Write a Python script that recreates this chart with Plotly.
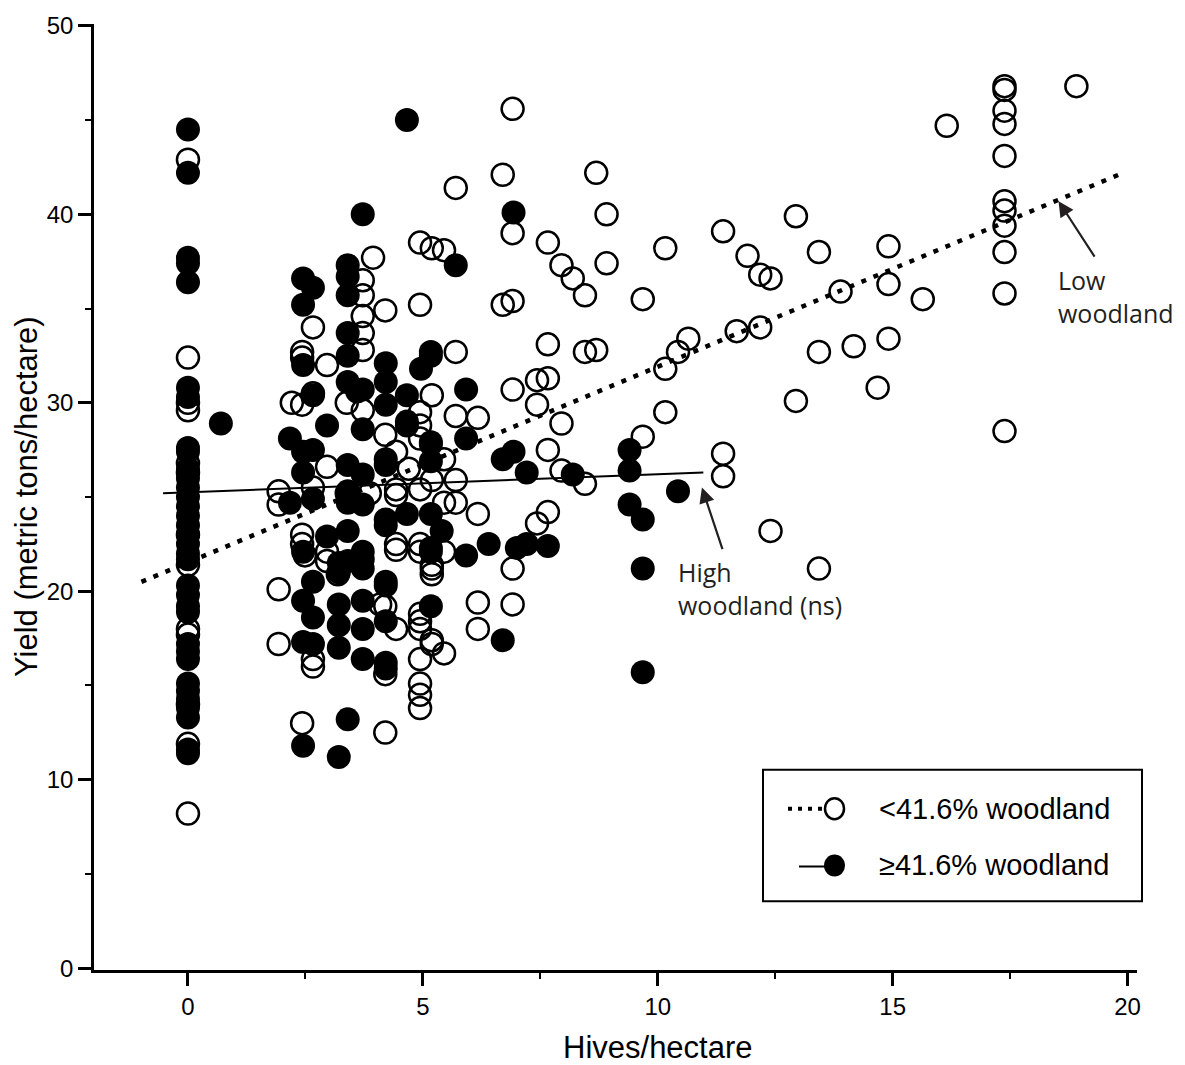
import plotly.graph_objects as go

# ---- data: hives per hectare vs. yield, split by surrounding woodland cover ----
low_hives = (
    [0] * 13
    + [1.93] * 4 + [2.21] + [2.43] * 6 + [2.49] + [2.66] * 5 + [2.96] * 4 + [3.19]
    + [3.38] * 2 + [3.72] * 6 + [3.87] + [3.94] + [4.09] + [4.20] * 5 + [4.43] * 6
    + [4.70] + [4.94] * 15 + [5.19] * 8 + [5.45] * 5 + [5.70] * 5 + [6.17] * 4
    + [6.70] * 2 + [6.91] * 6 + [7.43] * 3 + [7.66] * 5 + [7.95] * 3 + [8.19]
    + [8.45] * 3 + [8.69] * 2 + [8.91] * 2 + [9.68] * 2 + [10.16] * 3 + [10.43]
    + [10.65] + [11.39] * 3 + [11.68] + [11.91] + [12.18] * 2 + [12.40] * 2
    + [12.94] * 2 + [13.43] * 3 + [13.89] + [14.17] + [14.68] + [14.91] * 3
    + [15.64] + [16.15] + [17.38] * 11 + [18.91]
)
low_yield = [
    42.9, 32.4, 30.0, 29.6, 26.8, 26.3, 23.0, 21.4, 18.0, 17.7, 14.0, 11.9, 8.2,
    25.3, 24.6, 20.1, 17.2,
    30.0,
    32.4, 32.7, 29.9, 23.0, 22.5, 13.0,
    21.9,
    34.0, 30.5, 16.4, 16.0, 25.5,
    32.0, 21.6, 22.1, 26.6,
    20.9,
    25.2, 30.0,
    36.5, 35.7, 34.6, 33.7, 32.8, 29.6,
    25.2,
    37.7,
    19.3,
    34.9, 28.3, 19.2, 15.6, 12.5,
    27.4, 25.4, 25.1, 22.5, 22.2, 18.0,
    26.5,
    38.5, 35.2, 29.5, 28.8, 28.1, 25.4, 22.5, 22.1, 18.8, 18.4, 18.0, 16.4, 15.1, 14.5, 13.8,
    38.2, 30.4, 25.9, 21.4, 21.2, 20.9, 17.4, 17.2,
    38.1, 27.0, 24.7, 22.1, 16.7,
    41.4, 32.7, 29.3, 25.9, 24.7,
    29.2, 24.1, 19.4, 18.0,
    42.1, 35.2,
    45.6, 39.0, 35.4, 30.7, 21.2, 19.3,
    31.2, 29.9, 23.6,
    38.5, 33.1, 31.3, 27.5, 24.2,
    37.3, 28.9, 26.4,
    36.6,
    35.7, 32.7, 25.7,
    42.2, 32.8,
    40.0, 37.4,
    35.5, 28.2,
    38.2, 31.8, 29.5,
    32.7,
    33.4,
    39.1, 27.3, 26.1,
    33.8,
    37.8,
    36.8, 34.0,
    36.6, 23.2,
    39.9, 30.1,
    38.0, 32.7, 21.2,
    35.9,
    33.0,
    30.8,
    38.3, 36.3, 33.4,
    35.5,
    44.7,
    46.8, 46.6, 45.5, 44.8, 43.1, 40.7, 40.2, 39.4, 38.0, 35.8, 28.5,
    46.8,
]

high_hives = (
    [0] * 34
    + [0.70] + [2.17] * 2 + [2.45] * 9 + [2.66] * 7 + [2.96] * 2 + [3.21] * 6
    + [3.40] * 12 + [3.60] + [3.72] * 11 + [4.21] * 12 + [4.66] * 5 + [4.96]
    + [5.17] * 9 + [5.40] + [5.70] + [5.92] * 3 + [6.40] + [6.70] * 2 + [6.93] * 2
    + [7.00] + [7.21] * 2 + [7.66] + [8.19] + [9.40] * 3 + [9.68] * 3 + [10.43]
)
high_yield = [
    44.5, 42.2, 37.7, 37.4, 36.4, 30.8, 30.3, 27.6, 27.4, 26.5, 26.0, 25.5, 25.0,
    24.5, 24.0, 23.5, 23.0, 22.5, 22.0, 21.7, 20.3, 19.8, 19.2, 18.9, 17.2, 16.8,
    16.4, 15.1, 14.7, 14.3, 13.8, 13.3, 11.6, 11.4,
    28.9,
    28.1, 24.7,
    36.6, 35.2, 32.0, 27.4, 26.3, 22.1, 19.5, 17.3, 11.8,
    36.1, 30.4, 27.5, 24.9, 20.5, 18.6, 17.2,
    28.8, 22.9,
    21.5, 21.0, 19.3, 18.2, 17.0, 11.2,
    37.3, 36.7, 35.7, 33.7, 32.5, 31.1, 26.7, 25.3, 24.7, 23.2, 21.6, 13.2,
    30.6,
    40.0, 30.7, 28.6, 26.2, 24.6, 22.1, 21.7, 21.2, 19.5, 18.0, 16.4,
    32.1, 31.1, 29.9, 27.0, 26.7, 23.8, 23.5, 20.5, 20.3, 18.4, 16.2, 15.9,
    45.0, 30.4, 29.0, 28.8, 24.1,
    31.8,
    32.7, 32.5, 27.9, 27.8, 26.9, 24.1, 22.3, 22.1, 19.2,
    23.2,
    37.3,
    30.7, 28.1, 21.9,
    22.5,
    27.0, 17.4,
    40.1, 27.4,
    22.3,
    26.3, 22.5,
    22.4,
    26.2,
    27.5, 26.4, 24.6,
    23.8, 21.2, 15.7,
    25.3,
]

# fitted regression lines (end points)
low_fit_x = [-0.99, 19.81]
low_fit_y = [20.5, 42.1]
high_fit_x = [-0.53, 10.97]
high_fit_y = [25.2, 26.3]

x_ticks = [0, 5, 10, 15, 20]
y_ticks = [0, 10, 20, 30, 40, 50]
legend_labels = ["<41.6% woodland", "\u226541.6% woodland"]

BLACK = "#000000"
INK = "#231f20"
SANS = "Arial, Liberation Sans, Helvetica, sans-serif"
HUMANIST = "Open Sans, Noto Sans, sans-serif"

W, H = 1185, 1065
L, R, T, B = 94, 48, 20, 95
PW, PH = W - L - R, H - T - B


def px_x(px):
    return (px - L) / PW


def px_y(py):
    return (H - B - py) / PH


fig = go.Figure()

# low woodland: open circles
fig.add_trace(go.Scatter(
    x=low_hives, y=low_yield, mode="markers",
    marker=dict(symbol="circle-open", size=22, color=BLACK, line=dict(width=2.5, color=BLACK)),
    showlegend=False, hoverinfo="x+y",
))
# high woodland: filled circles drawn on top
fig.add_trace(go.Scatter(
    x=high_hives, y=high_yield, mode="markers",
    marker=dict(symbol="circle", size=24, color=BLACK, line=dict(width=0)),
    showlegend=False, hoverinfo="x+y",
))
# regression lines
fig.add_trace(go.Scatter(
    x=low_fit_x, y=low_fit_y, mode="lines",
    line=dict(color=BLACK, width=4.5, dash="5px,8px"),
    showlegend=False, hoverinfo="skip",
))
fig.add_trace(go.Scatter(
    x=high_fit_x, y=high_fit_y, mode="lines",
    line=dict(color=BLACK, width=2),
    showlegend=False, hoverinfo="skip",
))

axis_common = dict(
    showline=True, linecolor=BLACK, linewidth=2.5,
    ticks="outside", ticklen=13, tickwidth=2.5, tickcolor=BLACK,
    showgrid=False, zeroline=False,
    tickfont=dict(family=SANS, size=24, color=BLACK),
)

fig.update_xaxes(
    range=[-2.0, 20.2], tickvals=x_ticks, ticktext=[str(v) for v in x_ticks],
    minor=dict(ticks="outside", ticklen=6, tickwidth=2, tickcolor=BLACK,
               tickvals=[2.5, 7.5, 12.5, 17.5]),
    **axis_common,
)
fig.update_yaxes(
    range=[-0.1, 50.1], tickvals=y_ticks, ticktext=[str(v) for v in y_ticks],
    minor=dict(ticks="outside", ticklen=6, tickwidth=2, tickcolor=BLACK,
               tickvals=[5, 15, 25, 35, 45]),
    **axis_common,
)

annotations = [
    # axis titles, centred on the labelled ranges
    dict(text="Hives/hectare", xref="x", yref="paper", x=10, y=px_y(1048),
         showarrow=False, font=dict(family=SANS, size=31, color=BLACK),
         xanchor="center", yanchor="middle"),
    dict(text="Yield (metric tons/hectare)", xref="paper", yref="y", x=px_x(26), y=25,
         showarrow=False, textangle=-90, font=dict(family=SANS, size=31, color=BLACK),
         xanchor="center", yanchor="middle"),
    # arrows pointing at the fitted lines
    dict(x=18.53, y=40.7, xref="x", yref="y", ax=37, ay=57, text="", showarrow=True,
         arrowhead=2, arrowsize=1.4, arrowwidth=2.2, arrowcolor=INK, standoff=0),
    dict(x=10.94, y=25.5, xref="x", yref="y", ax=21, ay=63, text="", showarrow=True,
         arrowhead=2, arrowsize=1.4, arrowwidth=2.2, arrowcolor=INK, standoff=0),
    dict(text="Low<br>woodland", xref="paper", yref="paper", x=px_x(1056), y=px_y(258),
         showarrow=False, align="left", xanchor="left", yanchor="top",
         font=dict(family=HUMANIST, size=25, color=INK)),
    dict(text="High<br>woodland (ns)", xref="paper", yref="paper", x=px_x(676), y=px_y(551),
         showarrow=False, align="left", xanchor="left", yanchor="top",
         font=dict(family=HUMANIST, size=25, color=INK)),
    # legend text
    dict(text=legend_labels[0], xref="paper", yref="paper", x=px_x(877), y=px_y(808),
         showarrow=False, xanchor="left", yanchor="middle",
         font=dict(family=SANS, size=29, color=BLACK)),
    dict(text=legend_labels[1], xref="paper", yref="paper", x=px_x(877), y=px_y(865),
         showarrow=False, xanchor="left", yanchor="middle",
         font=dict(family=SANS, size=29, color=BLACK)),
]

shapes = [
    # legend frame
    dict(type="rect", xref="paper", yref="paper",
         x0=px_x(763), x1=px_x(1142), y0=px_y(901), y1=px_y(769),
         line=dict(color=BLACK, width=2), fillcolor="white", layer="above"),
    # legend swatches
    dict(type="line", xref="paper", yref="paper",
         x0=px_x(788), x1=px_x(824), y0=px_y(808), y1=px_y(808),
         line=dict(color=BLACK, width=4, dash="4px,6px"), layer="above"),
    dict(type="circle", xref="paper", yref="paper", xsizemode="pixel", ysizemode="pixel",
         xanchor=px_x(834.5), yanchor=px_y(808), x0=-9.5, x1=9.5, y0=-10.5, y1=10.5,
         line=dict(color=BLACK, width=2.5), fillcolor="white", layer="above"),
    dict(type="line", xref="paper", yref="paper",
         x0=px_x(799), x1=px_x(834), y0=px_y(866), y1=px_y(866),
         line=dict(color=BLACK, width=2), layer="above"),
    dict(type="circle", xref="paper", yref="paper", xsizemode="pixel", ysizemode="pixel",
         xanchor=px_x(834.5), yanchor=px_y(865), x0=-10.5, x1=10.5, y0=-11, y1=11,
         line=dict(color=BLACK, width=0), fillcolor=BLACK, layer="above"),
]

fig.update_layout(
    width=W, height=H,
    margin=dict(l=L, r=R, t=T, b=B, pad=0),
    paper_bgcolor="white", plot_bgcolor="white",
    annotations=annotations, shapes=shapes,
    showlegend=False,
)

fig.write_html("out.html")
